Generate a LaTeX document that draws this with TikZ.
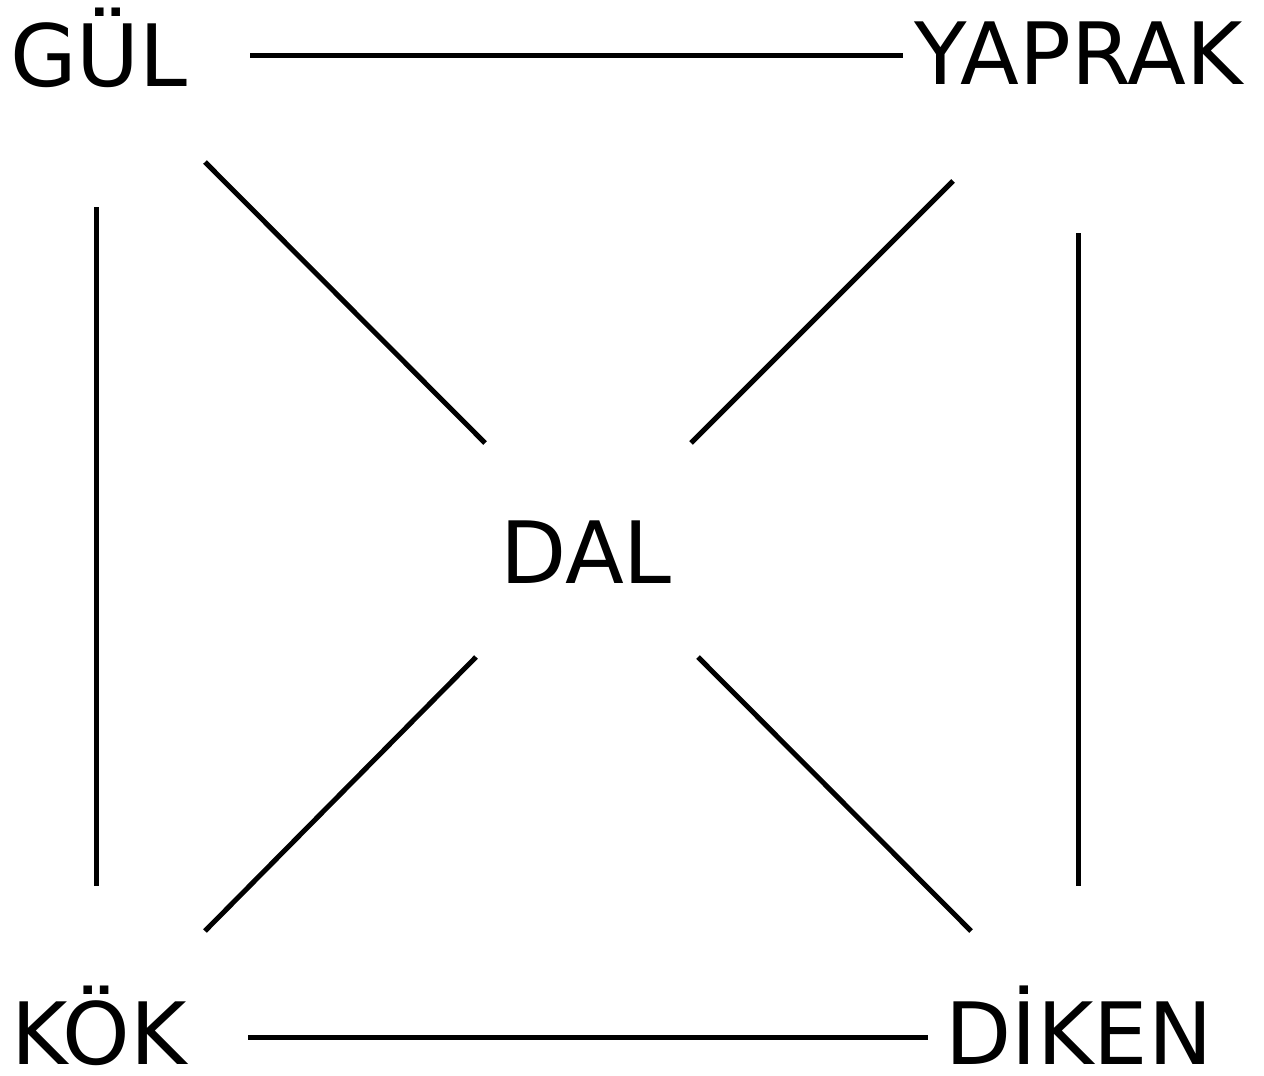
\documentclass[tikz,border=0pt]{standalone}
\usepackage{fontspec}
\setmainfont{DejaVu Sans}
\begin{document}
\begin{tikzpicture}[x=1pt,y=-1pt,
  lbl/.style={inner sep=0pt,anchor=base,text depth=0pt,font=\fontsize{86}{90}\selectfont},
  link/.style={line width=5pt}]
\useasboundingbox (0,0) rectangle (1264,1076);
\node[lbl] (gul) at (99,86) {GÜL};
\node[lbl] (yaprak) at (1079,84) {YAPRAK};
\node[lbl] (dal) at (586,583) {DAL};
\node[lbl] (kok) at (99,1064) {KÖK};
\node[lbl] (diken) at (1079,1064) {DİKEN};
% connector ends
\coordinate (a1) at (250,55);  \coordinate (a2) at (903,55);
\coordinate (b1) at (248,1037); \coordinate (b2) at (928,1037);
\coordinate (c1) at (96,207);  \coordinate (c2) at (96,886);
\coordinate (d1) at (1078,233); \coordinate (d2) at (1078,886);
\coordinate (e1) at (205,162); \coordinate (e2) at (485,443);
\coordinate (f1) at (953,181); \coordinate (f2) at (691,443);
\coordinate (g1) at (205,931); \coordinate (g2) at (476,657);
\coordinate (h1) at (971,931); \coordinate (h2) at (698,657);
\draw[link] (a1) -- (a2);
\draw[link] (b1) -- (b2);
\draw[link] (c1) -- (c2);
\draw[link] (d1) -- (d2);
\draw[link] (e1) -- (e2);
\draw[link] (f1) -- (f2);
\draw[link] (g1) -- (g2);
\draw[link] (h1) -- (h2);
\end{tikzpicture}
\end{document}
